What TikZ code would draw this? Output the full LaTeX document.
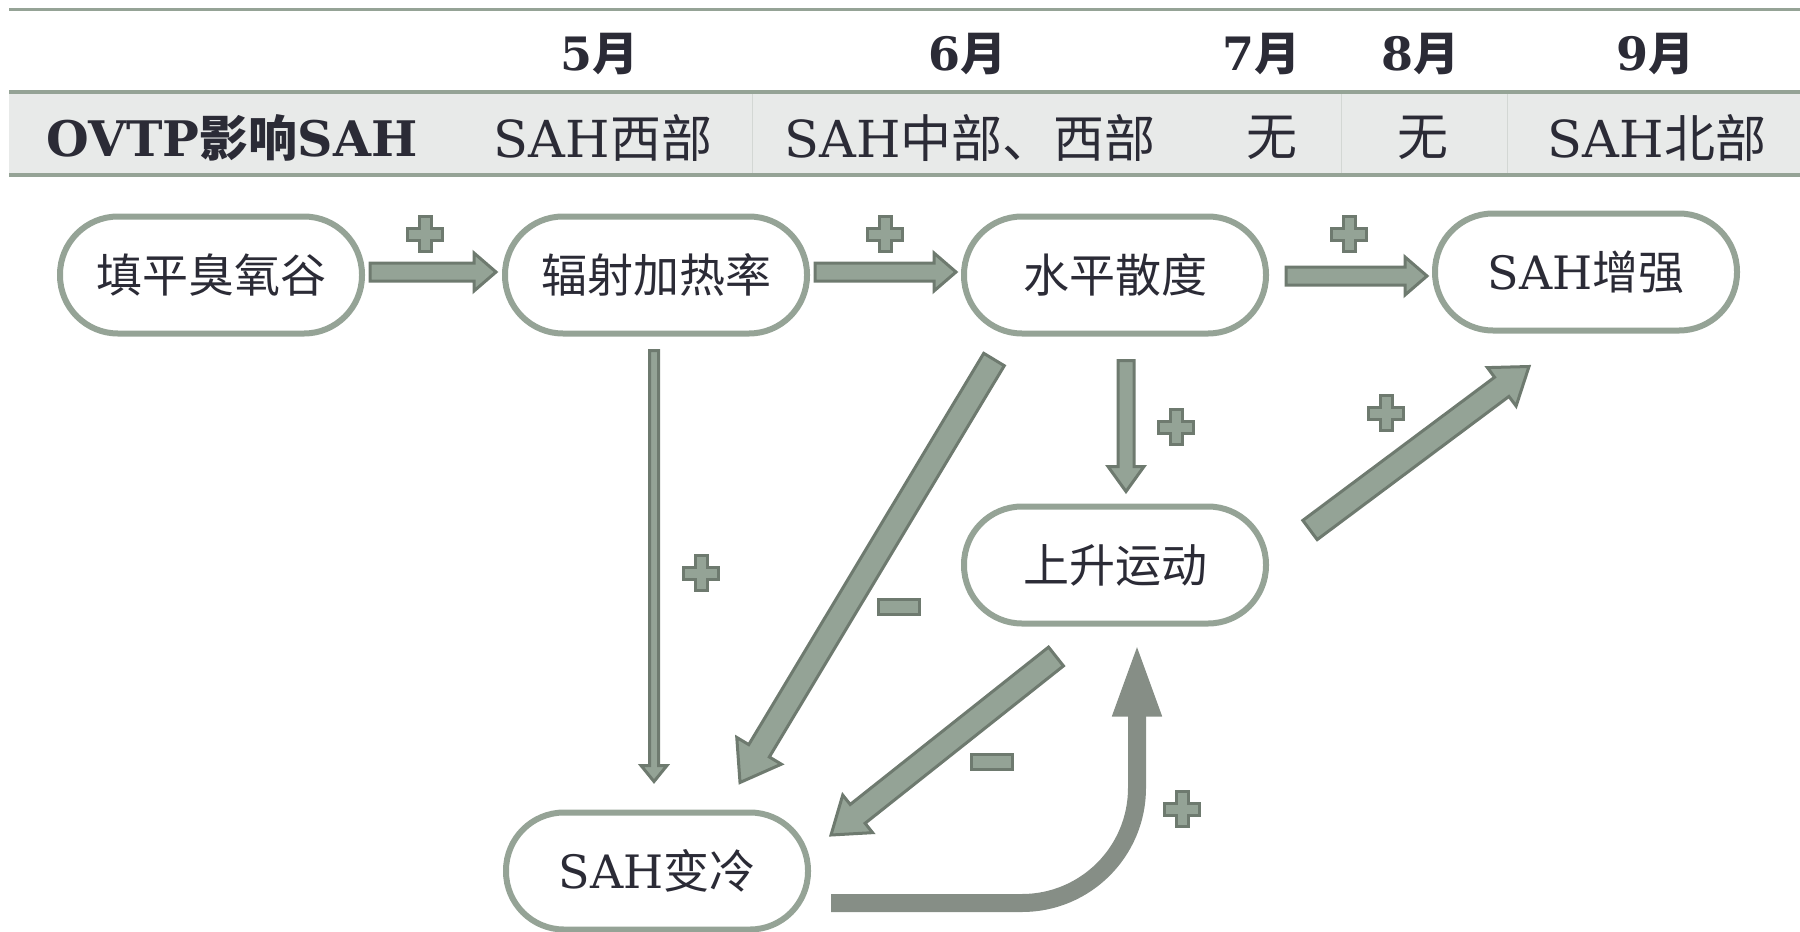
\documentclass[tikz,border=0pt]{standalone}
\usepackage{fontspec}
\setmainfont{DejaVu Serif}
\newfontfamily\cj{Noto Sans CJK SC}
\usetikzlibrary{calc,arrows.meta}
\definecolor{bord}{HTML}{95A396}
\definecolor{afill}{HTML}{94A396}
\definecolor{aedge}{HTML}{6E7A6F}
\definecolor{cfill}{HTML}{868E86}
\definecolor{band}{HTML}{E8EAE9}
\definecolor{sepc}{HTML}{D3D7D4}
\definecolor{txt}{HTML}{2B2B36}
\begin{document}
\begin{tikzpicture}[x=1pt,y=-1pt,
  box/.style={draw=bord, line width=6pt, fill=white, rounded corners=58pt,
    minimum width=302pt, minimum height=117pt, inner sep=0pt, text=txt,
    font=\fontsize{46}{50}\selectfont},
  hdr/.style={text=txt, inner sep=0pt, font=\fontsize{51}{55}\selectfont},
  mon/.style={text=txt, inner sep=0pt, font=\fontsize{46}{50}\selectfont\bfseries},
  barrow/.style n args={3}{draw=aedge, fill=afill, line width=3pt, line join=miter,
    to path={let \p1=(\tikztostart), \p2=(\tikztotarget),
      \n1={atan2(\y2-\y1,\x2-\x1)}, \n2={veclen(\x2-\x1,\y2-\y1)} in
      ({\x1-#1*sin(\n1)},{\y1+#1*cos(\n1)})
      -- ({\x1+(\n2-#3)*cos(\n1)-#1*sin(\n1)},{\y1+(\n2-#3)*sin(\n1)+#1*cos(\n1)})
      -- ({\x1+(\n2-#3)*cos(\n1)-#2*sin(\n1)},{\y1+(\n2-#3)*sin(\n1)+#2*cos(\n1)})
      -- (\p2)
      -- ({\x1+(\n2-#3)*cos(\n1)+#2*sin(\n1)},{\y1+(\n2-#3)*sin(\n1)-#2*cos(\n1)})
      -- ({\x1+(\n2-#3)*cos(\n1)+#1*sin(\n1)},{\y1+(\n2-#3)*sin(\n1)-#1*cos(\n1)})
      -- ({\x1+#1*sin(\n1)},{\y1-#1*cos(\n1)}) -- cycle}},
  curvearrow/.style={draw=cfill, line width=18pt, rounded corners=115pt,
    -{Triangle[length=75pt,width=44pt]}},
  plusmark/.pic={\draw[draw=aedge, fill=afill, line width=3pt]
    (-6,-17.5) -- (6,-17.5) -- (6,-6) -- (17.5,-6) -- (17.5,6) -- (6,6) -- (6,17.5)
    -- (-6,17.5) -- (-6,6) -- (-17.5,6) -- (-17.5,-6) -- (-6,-6) -- cycle;},
  minusmark/.pic={\draw[draw=aedge, fill=afill, line width=3pt]
    (-20.5,-7.5) rectangle (20.5,7.5);}
]
\useasboundingbox (0,0) rectangle (1800,932);
% table header
\fill[band] (9,92) rectangle (1800,175);
\draw[bord, line width=3pt] (9,9) -- (1800,9);
\draw[bord, line width=3.5pt] (9,92) -- (1800,92);
\draw[bord, line width=3.5pt] (9,175) -- (1800,175);
\foreach \xx in {752,1341,1507} \draw[sepc, line width=1pt] (\xx,94) -- (\xx,173);
\node[mon] (m5) at (599,54) {5{\cj\bfseries 月}};
\node[mon] (m6) at (967,54) {6{\cj\bfseries 月}};
\node[mon] (m7) at (1261,54) {7{\cj\bfseries 月}};
\node[mon] (m8) at (1420,54) {8{\cj\bfseries 月}};
\node[mon] (m9) at (1655,54) {9{\cj\bfseries 月}};
\node[hdr, font=\fontsize{49}{53}\selectfont\bfseries] (h0) at (232,138) {OVTP{\cj\bfseries 影响}SAH};
\node[hdr] (h5) at (603,138) {SAH{\cj 西部}};
\node[hdr] (h6) at (970,138) {SAH{\cj 中部、西部}};
\node[hdr] (h7) at (1272,138) {\cj 无};
\node[hdr] (h8) at (1423,138) {\cj 无};
\node[hdr] (h9) at (1657,138) {SAH{\cj 北部}};
% nodes
\node[box] (n1) at (211,275) {\cj 填平臭氧谷};
\node[box] (n2) at (656,275) {\cj 辐射加热率};
\node[box] (n3) at (1115,275) {\cj 水平散度};
\node[box] (n4) at (1586,272) {SAH{\cj 增强}};
\node[box] (n5) at (1115,565) {\cj 上升运动};
\node[box] (n6) at (657,871) {SAH{\cj 变冷}};
% arrows
\draw[barrow={9}{19}{22}] ($(n1.east)+(5,-3)$) to ($(n2.west)+(-6,-3)$);
\draw[barrow={9}{19}{22}] ($(n2.east)+(5,-3)$) to ($(n3.west)+(-5,-3)$);
\draw[barrow={9}{19}{22}] ($(n3.east)+(17,1)$) to ($(n4.west)+(-5,4)$);
\draw[barrow={4.5}{13}{16}] ($(n2.south)+(-2,14)$) to ($(n6.north)+(-3,-28)$);
\draw[barrow={12}{26}{37}] ($(n3.south)+(-121,23)$) to ($(n6.north)+(83,-27)$);
\draw[barrow={8}{18}{25}] ($(n3.south)+(11,24)$) to ($(n5.north)+(11,-12)$);
\draw[barrow={12}{24}{34}] ($(n5.east)+(41,-35)$) to ($(n4.south)+(-57,33)$);
\draw[barrow={12}{24}{34}] ($(n5.south)+(-59,30)$) to ($(n6.east)+(20,-36)$);
\draw[curvearrow] ($(n6.east)+(20,32)$) -| ($(n5.south)+(22,15)$);
% signs
\pic at (425,234) {plusmark};
\pic at (885,234) {plusmark};
\pic at (1349,234) {plusmark};
\pic at (701,573) {plusmark};
\pic at (1176,427) {plusmark};
\pic at (1386,413) {plusmark};
\pic at (1182,809) {plusmark};
\pic at (899,607) {minusmark};
\pic at (992,762) {minusmark};
\end{tikzpicture}
\end{document}
